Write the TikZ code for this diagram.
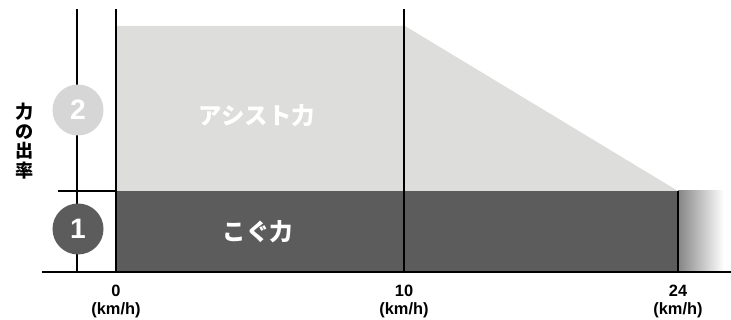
\documentclass[tikz,border=0pt]{standalone}
\usepackage{fontspec}
\setmainfont{Liberation Sans}
\newfontfamily\jpfont{Noto Sans CJK JP}
\definecolor{assistgray}{HTML}{DDDDDB}
\definecolor{pedalgray}{HTML}{5C5C5C}
\definecolor{circlegray}{HTML}{D6D6D6}
\begin{document}
\begin{tikzpicture}[x=0.03cm,y=-0.03cm,
    axisline/.style={line width=1.3pt,black},
    numcircle/.style={circle,minimum size=1.53cm,inner sep=0pt,text=white,
      font=\bfseries\fontsize{24}{24}\selectfont},
    speedlabel/.style={inner sep=0pt,font=\bfseries\fontsize{14}{14}\selectfont},
    barlabel/.style={text=white,font=\jpfont\bfseries\fontsize{20}{20}\selectfont}]
  \useasboundingbox (0,0) rectangle (731,320);
  \fill[assistgray] (116,26) -- (405,26) -- (678,191) -- (116,191) -- cycle;
  \fill[pedalgray] (116,191) rectangle (678,272);
  \shade[left color=pedalgray!75, right color=white] (678,191) rectangle (724,272);
  \draw
    (77,9) coordinate (ytop)
    (77,272) coordinate (ybot)
    (42,272) coordinate (xleft)
    (731,272) coordinate (xright)
    (58,191) coordinate (tickleft)
    (116,191) coordinate (tickright)
    (116,9) coordinate (zerotop)
    (116,272) coordinate (zerobot)
    (404,9) coordinate (tentop)
    (404,272) coordinate (tenbot)
    (678,191) coordinate (maxtop)
    (678,272) coordinate (maxbot);
  \begin{scope}[axisline]
    \draw (ytop) to (ybot);
    \draw (xleft) to (xright);
    \draw (tickleft) to (tickright);
    \draw (zerotop) to (zerobot);
    \draw (tentop) to (tenbot);
    \draw (maxtop) to (maxbot);
  \end{scope}
  \node[numcircle,fill=circlegray] (c2) at (78,110) {2};
  \node[numcircle,fill=pedalgray] (c1) at (78,229) {1};
  \node[align=center,font=\jpfont\bfseries\fontsize{15.5}{16.6}\selectfont] (ratio) at (25,141) {力\\の\\出\\率};
  \node[barlabel] (assist) at (257,116) {アシスト力};
  \node[barlabel] (pedal) at (258,232) {こぐ力};
  \draw
    (116,291) node[speedlabel] (v0) {0}
    (404,291) node[speedlabel] (v10) {10}
    (678,291) node[speedlabel] (v24) {24}
    (116,310) node[speedlabel] (u0) {(km/h)}
    (404,310) node[speedlabel] (u10) {(km/h)}
    (678,310) node[speedlabel] (u24) {(km/h)};
\end{tikzpicture}
\end{document}
